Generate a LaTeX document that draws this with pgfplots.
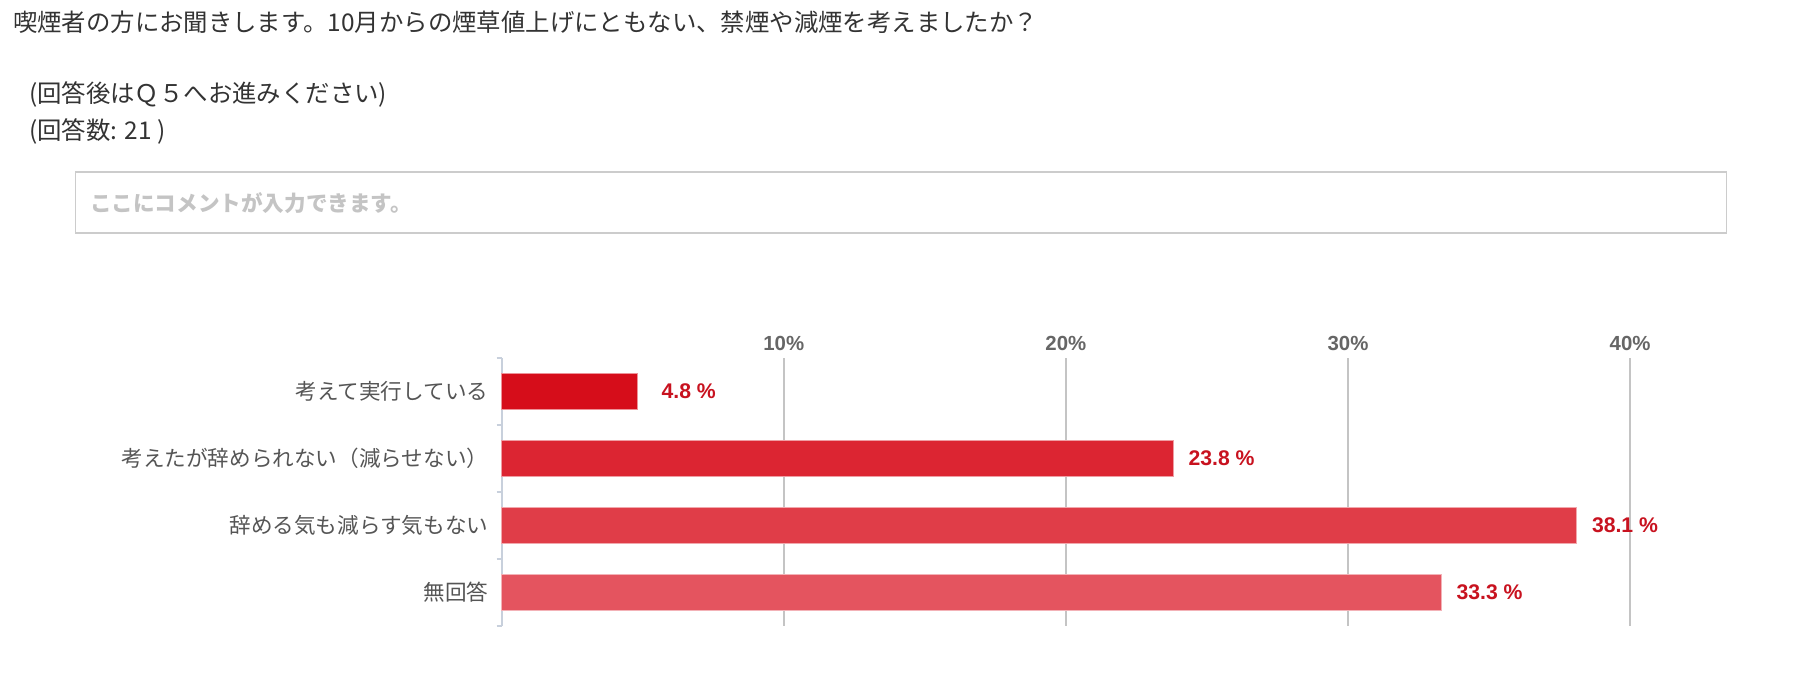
\documentclass[border=0pt]{standalone}
\usepackage{fontspec}
\setmainfont{Noto Sans CJK JP}
\newfontfamily\lib{Liberation Sans}
\usepackage{pgfplots}
\pgfplotsset{compat=1.18}
\definecolor{ctitle}{HTML}{333333}
\definecolor{cbox}{HTML}{CCCCCC}
\definecolor{cplace}{HTML}{C4C4C4}
\definecolor{caxis}{HTML}{C8D0DC}
\definecolor{cgrid}{HTML}{C4C4C4}
\definecolor{ctick}{HTML}{666666}
\definecolor{cylab}{HTML}{555555}
\definecolor{clab}{HTML}{C8121F}
\definecolor{cbA}{HTML}{D60D1A}
\definecolor{cbB}{HTML}{DC2532}
\definecolor{cbC}{HTML}{E03D48}
\definecolor{cbD}{HTML}{E4545F}
\begin{document}
\begin{tikzpicture}
\path[use as bounding box] (0pt,0pt) rectangle (900pt,-345.5pt);
\node[anchor=west, inner sep=0pt, text=ctitle, font=\fontsize{12.2}{14}\selectfont] at (6.3pt,-11pt) {喫煙者の方にお聞きします。10月からの煙草値上げにともない、禁煙や減煙を考えましたか？};
\node[anchor=west, inner sep=0pt, text=ctitle, font=\fontsize{12.2}{14}\selectfont] at (14.3pt,-47pt) {(回答後はＱ５へお進みください)};
\node[anchor=west, inner sep=0pt, text=ctitle, font=\fontsize{12.2}{14}\selectfont] at (14.3pt,-65.5pt) {(回答数: 21 )};
\draw[cbox, line width=0.6pt] (37.9pt,-86pt) rectangle (863.3pt,-116.5pt);
\node[anchor=west, inner sep=0pt, text=cplace, font=\bfseries\fontsize{10.8}{13}\selectfont] at (44.8pt,-101.6pt) {ここにコメントが入力できます。};
\begin{axis}[
  at={(250.85pt,-179pt)}, anchor=north west,
  scale only axis, width=564.2pt, height=134pt,
  xbar, bar width=17.8pt, bar shift=0pt,
  xmin=0, xmax=40, ymin=-0.5, ymax=3.5, y dir=reverse,
  enlargelimits=false, clip=false,
  axis x line*=top, axis y line*=left,
  x axis line style={draw=none},
  y axis line style={draw=caxis, line width=1pt, -},
  /pgf/number format/assume math mode=true,
  xtick={10,20,30,40}, xticklabels={10\%,20\%,30\%,40\%},
  xtick style={draw=none},
  xmajorgrids, major grid style={draw=cgrid, line width=0.7pt},
  xticklabel style={font=\lib\bfseries\fontsize{10.2}{12}\selectfont, text=ctick},
  ytick={0,1,2,3},
  yticklabels={考えて実行している,考えたが辞められない（減らせない）,辞める気も減らす気もない,無回答},
  ytick style={draw=caxis, line width=1pt},
  minor ytick={-0.5,0.5,1.5,2.5,3.5},
  minor tick length=2.5pt, major tick length=0pt,
  tick align=outside,
  minor tick style={draw=caxis, line width=1pt},
  yticklabel style={font=\fontsize{10.8}{13}\selectfont, text=cylab, inner sep=0pt, anchor=east, xshift=-6.5pt},
  vlab/.style={nodes near coords={\pgfmathprintnumber[fixed,fixed zerofill,precision=1]{\pgfplotspointmeta} \%},
    every node near coord/.append style={font=\lib\bfseries\fontsize{10.6}{13}\selectfont, text=clab, anchor=west, inner sep=0pt, xshift=#1}},
]
\addplot[fill=cbA, draw=cbA!45!white, line width=0.5pt, vlab=12pt] coordinates {(4.8,0)};
\addplot[fill=cbB, draw=cbB!45!white, line width=0.5pt, vlab=7.5pt] coordinates {(23.8,1)};
\addplot[fill=cbC, draw=cbC!45!white, line width=0.5pt, vlab=7.5pt] coordinates {(38.1,2)};
\addplot[fill=cbD, draw=cbD!45!white, line width=0.5pt, vlab=7.5pt] coordinates {(33.3,3)};
\end{axis}
\end{tikzpicture}
\end{document}
